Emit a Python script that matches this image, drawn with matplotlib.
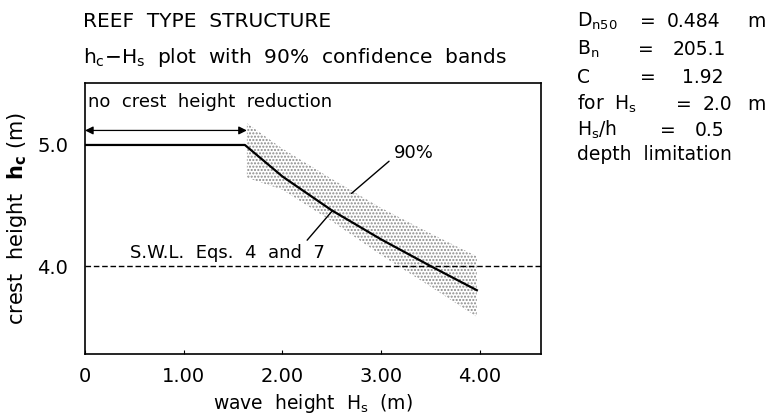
import matplotlib
matplotlib.use("Agg")
import matplotlib.pyplot as plt

plt.rcParams['font.family'] = ['DejaVu Sans']
plt.rcParams['mathtext.fontset'] = 'dejavusans'
plt.rcParams['hatch.linewidth'] = 1.0

# design curve h_c(H_s)
hs_curve = [0.0, 1.62, 2.0, 2.5, 3.0, 3.5, 3.97]
hc_curve = [5.0, 5.0, 4.74, 4.46, 4.22, 4.00, 3.80]

# 90% confidence band
hs_band = [1.64, 2.0, 2.5, 3.0, 3.5, 3.97]
hc_upper = [5.18, 4.97, 4.72, 4.48, 4.27, 4.08]
hc_lower = [4.73, 4.63, 4.37, 4.09, 3.83, 3.58]

swl = 4.0
hs_no_reduction = 1.64

xticks = [0, 1, 2, 3, 4]
xtick_labels = ["0", "1.00", "2.00", "3.00", "4.00"]
yticks = [4.0, 5.0]
ytick_labels = ["4.0", "5.0"]

W, H = 773, 418
fig = plt.figure(figsize=(W / 100, H / 100), dpi=100)
ax = fig.add_axes([85 / W, 1 - 354 / H, (541 - 85) / W, (354 - 83) / H])

# band (stippled), SWL and curve
ax.fill_between(hs_band, hc_lower, hc_upper, facecolor='none',
                edgecolor='#8a8a8a', hatch='.....', linewidth=0, zorder=1)
ax.axhline(swl, color='black', lw=1.0, dashes=(4, 2), zorder=2)
ax.plot(hs_curve, hc_curve, color='black', lw=1.6, zorder=3)

ax.set_xlim(0, 4.62)
ax.set_ylim(3.273, 5.512)
ax.set_xticks(xticks)
ax.set_xticklabels(xtick_labels)
ax.set_yticks(yticks)
ax.set_yticklabels(ytick_labels)
ax.tick_params(axis='x', direction='in', length=3, pad=9, labelsize=14)
ax.tick_params(axis='y', length=0, pad=12, labelsize=14)
for s in ax.spines.values():
    s.set_linewidth(1.2)

ax.set_xlabel(r"wave  height  H$_\mathregular{s}$  (m)", fontsize=13.5, labelpad=5)
ax.set_ylabel(r"crest  height  $\mathbf{h_c}$ (m)", fontsize=15, labelpad=6)

# annotations inside the plot
ax.text(0.03, 5.31, "no  crest  height  reduction", fontsize=13, va='baseline')
ax.annotate("", xy=(0, 5.12), xytext=(hs_no_reduction, 5.12),
            arrowprops=dict(arrowstyle='<|-|>', color='black', lw=0.9,
                            shrinkA=0, shrinkB=0, mutation_scale=12))
ax.annotate("S.W.L.  Eqs.  4  and  7", xy=(2.51, 4.46), xytext=(0.46, 4.066),
            fontsize=13, va='baseline',
            arrowprops=dict(arrowstyle='-', color='black', lw=1.0,
                            relpos=(0.89, 1.0), shrinkA=1, shrinkB=0))
ax.annotate("90%", xy=(2.70, 4.60), xytext=(3.13, 4.93), fontsize=13,
            va='center',
            arrowprops=dict(arrowstyle='-', color='black', lw=1.0,
                            relpos=(0.0, 0.3), shrinkA=2, shrinkB=0))

# titles
fig.text(83 / W, 1 - 27 / H, "REEF  TYPE  STRUCTURE", fontsize=14.5, va='baseline')
fig.text(83 / W, 1 - 63 / H,
         r"h$_\mathregular{c}$$-$H$_\mathregular{s}$  plot  with  90%  confidence  bands",
         fontsize=14.5, va='baseline')

# parameter block on the right
params = [
    [(r"D$_\mathregular{n50}$", 577), ("=", 640), ("0.484", 667), ("m", 747)],
    [(r"B$_\mathregular{n}$", 577), ("=", 638), ("205.1", 673)],
    [("C", 577), ("=", 640), ("1.92", 682)],
    [(r"for  H$_\mathregular{s}$", 577), ("=", 676), ("2.0", 703), ("m", 747)],
    [(r"H$_\mathregular{s}$/h", 577), ("=", 660), ("0.5", 695)],
    [("depth  limitation", 577)],
]
baselines = [27, 55, 83, 110, 136, 160]
for row, yb in zip(params, baselines):
    for txt, xp in row:
        fig.text(xp / W, 1 - yb / H, txt, fontsize=13.5, va='baseline')

fig.savefig("out.png", dpi=100)
